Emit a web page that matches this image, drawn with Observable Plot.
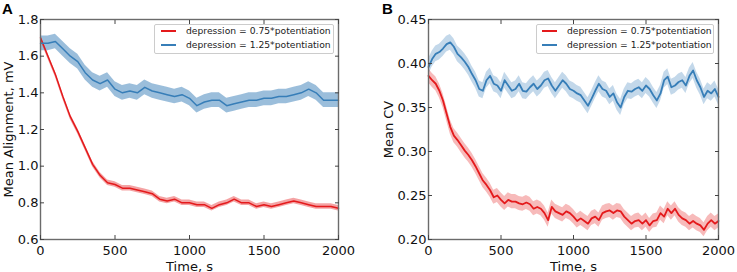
<!DOCTYPE html>
<html>
<head>
<meta charset="utf-8">
<script src="https://cdn.jsdelivr.net/npm/d3@7"></script>
<script src="https://cdn.jsdelivr.net/npm/@observablehq/plot@0.6"></script>
<style>
  body { margin: 0; background: #fff; }
  #wrap { position: relative; width: 737px; height: 272px; font-family: "DejaVu Sans", sans-serif; }
  .panel { position: absolute; font: bold 15px "Liberation Sans", Arial, sans-serif; line-height: 1; }
  .legend { position: absolute; background: #fff; border: 1px solid #cccccc; border-radius: 2px; box-sizing: border-box; }
  .legend .sw { position: absolute; height: 2px; }
  .legend .lt { position: absolute; font: 9.2px "DejaVu Sans", sans-serif; line-height: 1; color: #222; white-space: nowrap; }
</style>
</head>
<body>
<div id="wrap"></div>
<script>
// ---------- data ----------
const seriesNames = ["depression = 0.75*potentiation", "depression = 1.25*potentiation"];
const seriesColors = ["#e41a1c", "#377eb8"];

const timeA = [0,50,100,150,200,250,300,350,400,450,500,550,600,650,700,750,800,850,900,950,1000,
  1050,1100,1150,1200,1250,1300,1350,1400,1450,1500,1550,1600,1650,1700,1750,1800,1850,1900,1950,2000];
const alignRed = [1.70,1.60,1.50,1.38,1.27,1.19,1.10,1.01,0.95,0.91,0.90,0.88,0.88,0.87,0.86,0.85,0.82,0.81,0.82,0.80,0.80,
  0.79,0.79,0.77,0.79,0.80,0.82,0.80,0.80,0.78,0.79,0.78,0.79,0.80,0.81,0.80,0.79,0.78,0.78,0.78,0.77];
const alignBlue = [1.67,1.67,1.68,1.64,1.60,1.57,1.51,1.47,1.45,1.47,1.42,1.40,1.41,1.40,1.43,1.41,1.40,1.39,1.38,1.39,1.37,
  1.33,1.35,1.36,1.36,1.33,1.34,1.35,1.36,1.36,1.37,1.37,1.38,1.38,1.39,1.40,1.42,1.40,1.36,1.36,1.36];
const alignSpread = [0.015, 0.04];

const timeB = [0,25,50,75,100,125,150,175,200,225,250,275,300,325,350,375,400,425,450,475,500,
  525,550,575,600,625,650,675,700,725,750,775,800,825,850,875,900,925,950,975,1000,
  1025,1050,1075,1100,1125,1150,1175,1200,1225,1250,1275,1300,1325,1350,1375,1400,1425,1450,1475,1500,
  1525,1550,1575,1600,1625,1650,1675,1700,1725,1750,1775,1800,1825,1850,1875,1900,1925,1950,1975,2000];
const cvRed = [0.386,0.381,0.377,0.369,0.358,0.343,0.328,0.318,0.313,0.307,0.301,0.296,0.290,0.283,0.275,0.267,0.262,0.256,0.248,0.250,0.245,
  0.241,0.245,0.243,0.243,0.241,0.240,0.242,0.240,0.235,0.237,0.235,0.230,0.222,0.237,0.232,0.230,0.228,0.232,0.230,0.226,
  0.221,0.224,0.221,0.218,0.224,0.226,0.222,0.230,0.232,0.233,0.230,0.233,0.232,0.226,0.222,0.218,0.221,0.222,0.218,0.222,
  0.216,0.221,0.222,0.230,0.226,0.235,0.230,0.235,0.228,0.224,0.222,0.218,0.221,0.218,0.216,0.211,0.218,0.222,0.218,0.221];
const cvBlue = [0.396,0.405,0.411,0.413,0.417,0.422,0.424,0.419,0.411,0.407,0.402,0.396,0.388,0.381,0.371,0.369,0.381,0.386,0.377,0.375,0.369,
  0.381,0.375,0.369,0.371,0.377,0.369,0.368,0.373,0.377,0.371,0.375,0.381,0.383,0.375,0.369,0.375,0.381,0.377,0.371,0.369,
  0.366,0.364,0.358,0.352,0.360,0.369,0.377,0.371,0.369,0.362,0.366,0.356,0.350,0.362,0.369,0.368,0.371,0.373,0.369,0.375,
  0.371,0.364,0.358,0.366,0.381,0.385,0.373,0.375,0.379,0.381,0.375,0.386,0.392,0.381,0.373,0.362,0.369,0.366,0.371,0.362];
const cvSpread = [0.008, 0.009];

const xTicks = [0, 500, 1000, 1500, 2000];
const yTicksA = [0.6, 0.8, 1.0, 1.2, 1.4, 1.6, 1.8];
const yTicksB = [0.20, 0.25, 0.30, 0.35, 0.40, 0.45];

// ---------- build ----------
function rows(t, vals, spread, k) {
  return t.map((x, i) => ({t: x, v: vals[i], lo: vals[i] - spread[k], hi: vals[i] + spread[k], s: seriesNames[k]}));
}

function panel({width, ml, mr, yDomain, yTicks, yFmt, yLabel, yLabelOffset, data, lineW, bandOp}) {
  const marks = [];
  data.forEach((d, k) => {
    marks.push(Plot.areaY(d, {x: "t", y1: "lo", y2: "hi", fill: seriesColors[k], fillOpacity: bandOp[k], curve: "linear"}));
  });
  data.forEach((d, k) => {
    marks.push(Plot.lineY(d, {x: "t", y: "v", stroke: seriesColors[k], strokeWidth: lineW}));
  });
  marks.push(
    Plot.frame({stroke: "#6b6b6b", strokeWidth: 1.4}),
    Plot.axisX({ticks: xTicks, tickFormat: d3.format("d"), tickSize: -4, tickPadding: 10, label: "Time, s", labelAnchor: "center", labelArrow: "none", labelOffset: 31, stroke: "#444"}),
    Plot.axisX({anchor: "top", ticks: xTicks, tickSize: -4, tickFormat: () => "", label: null, stroke: "#444"}),
    Plot.axisY({ticks: yTicks, tickFormat: yFmt, tickSize: -4, tickPadding: 6, label: yLabel, labelAnchor: "center", labelArrow: "none", labelOffset: yLabelOffset, stroke: "#444"}),
    Plot.axisY({anchor: "right", ticks: yTicks, tickSize: -4, tickFormat: () => "", label: null, stroke: "#444"})
  );
  return Plot.plot({
    width, height: 272,
    marginLeft: ml, marginRight: mr, marginTop: 19, marginBottom: 33,
    x: {domain: [0, 2000]},
    y: {domain: yDomain},
    style: {fontSize: "13px", fontFamily: "DejaVu Sans, sans-serif", color: "#111", background: "transparent"},
    marks
  });
}

const wrap = document.getElementById("wrap");

const plotA = panel({
  width: 370, ml: 40, mr: 32, yDomain: [0.6, 1.8], yTicks: yTicksA, yFmt: d3.format(".1f"),
  yLabel: "Mean Alignment, mV", yLabelOffset: 37,
  data: [rows(timeA, alignRed, alignSpread, 0), rows(timeA, alignBlue, alignSpread, 1)],
  lineW: 1.5, bandOp: [0.4, 0.5]
});
const plotB = panel({
  width: 367, ml: 58, mr: 19, yDomain: [0.2, 0.45], yTicks: yTicksB, yFmt: d3.format(".2f"),
  yLabel: "Mean CV", yLabelOffset: 45,
  data: [rows(timeB, cvRed, cvSpread, 0), rows(timeB, cvBlue, cvSpread, 1)],
  lineW: 1.8, bandOp: [0.3, 0.3]
});
plotA.style.position = "absolute"; plotA.style.left = "0px"; plotA.style.top = "0px";
plotB.style.position = "absolute"; plotB.style.left = "370px"; plotB.style.top = "0px";
wrap.appendChild(plotA);
wrap.appendChild(plotB);

// panel letters
[["A", 2], ["B", 382]].forEach(([txt, x]) => {
  const d = document.createElement("div");
  d.className = "panel"; d.textContent = txt;
  d.style.left = x + "px"; d.style.top = "1px";
  wrap.appendChild(d);
});

// legends
function legend(left, top, w, h, swLeft) {
  const box = document.createElement("div");
  box.className = "legend";
  box.style.left = left + "px"; box.style.top = top + "px";
  box.style.width = w + "px"; box.style.height = h + "px";
  seriesNames.forEach((name, k) => {
    const cy = 5 + k * 14;
    const sw = document.createElement("div");
    sw.className = "sw";
    sw.style.left = swLeft + "px"; sw.style.width = "15px"; sw.style.top = cy + "px";
    sw.style.background = seriesColors[k];
    box.appendChild(sw);
    const lt = document.createElement("div");
    lt.className = "lt"; lt.textContent = name;
    lt.style.left = (swLeft + 25) + "px"; lt.style.top = (cy - 4) + "px";
    box.appendChild(lt);
  });
  wrap.appendChild(box);
}
legend(154, 24, 180, 30, 6);
legend(536, 24, 178, 30, 5);
</script>
</body>
</html>
